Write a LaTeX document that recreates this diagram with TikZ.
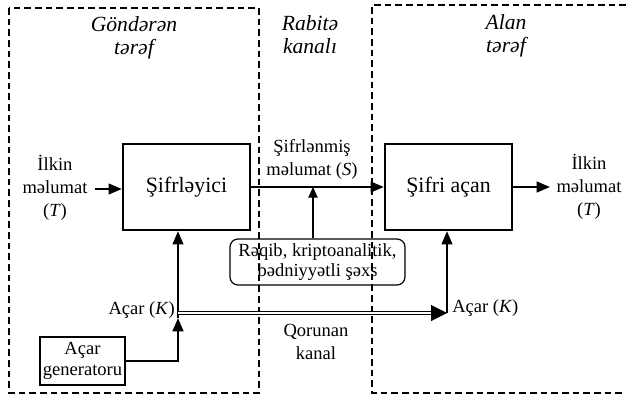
\documentclass[tikz,border=0pt]{standalone}
\usepackage{fontspec}
\setmainfont{Liberation Serif}
\usetikzlibrary{arrows.meta,calc}
\begin{document}
\begin{tikzpicture}[x=0.75pt,y=-0.75pt,
  txt/.style={font=\fontsize{13.9}{17.25}\selectfont, align=center, inner sep=0pt},
  ttl/.style={font=\fontsize{16.2}{17.25}\selectfont\itshape, align=center, inner sep=0pt},
  bigbox/.style={draw, line width=1.7pt, minimum width=95.25pt, minimum height=64.5pt, inner sep=0pt, font=\fontsize{16.4}{19}\selectfont},
  genbox/.style={draw, line width=1.5pt, minimum width=63.75pt, minimum height=36pt, inner sep=0pt, align=center, font=\fontsize{13.9}{15.5}\selectfont},
  rqbox/.style={draw, line width=0.9pt, rounded corners=6pt, minimum width=131.25pt, minimum height=34.5pt, inner sep=0pt, align=center, font=\fontsize{13.9}{15.5}\selectfont},
  frame/.style={dash pattern=on 5pt off 3pt, line width=1pt},
  arr/.style={line width=1.6pt, -{Triangle[length=10pt,width=8pt]}},
  thinarr/.style={line width=0.9pt, -{Triangle[length=8pt,width=7pt]}}
]
\useasboundingbox (0,0) rectangle (626,397);
% frames
\draw[frame] (9,8) rectangle (259,393);
\draw[frame] (626,5) -- (372,5) -- (372,393) -- (626,393);
% titles
\node[ttl] (t1) at (134,38) {Göndərən\\tərəf};
\node[ttl] (t2) at (310,35) {Rabitə\\kanalı};
\node[ttl] (t3) at (506,36) {Alan\\tərəf};
% boxes
\node[bigbox] (enc) at (186.5,187) {Şifrləyici};
\node[bigbox] (dec) at (448.5,187) {Şifri açan};
\node[rqbox] (rq) at (317.5,262) {Rəqib, kriptoanalitik,\\bədniyyətli şəxs};
\node[genbox] (gen) at (82.5,361) {Açar\\generatoru};
% labels
\node[txt] (lin) at (55,188) {İlkin\\məlumat\\(\textit{T})};
\node[txt] (lout) at (589,187) {İlkin\\məlumat\\(\textit{T})};
\node[txt] (lS) at (312,159) {Şifrlənmiş\\məlumat (\textit{S})};
\node[txt, anchor=east] (lK1) at (175,310) {Açar (\textit{K})};
\node[txt, anchor=west] (lK2) at (452,308) {Açar (\textit{K})};
\node[txt] (lQ) at (316,342) {Qorunan\\kanal};
% coordinates
\coordinate (inS) at (95,189);
\coordinate (outE) at (550,187);
\coordinate (tap) at (313,187);
\coordinate (kA) at (178,318);
\coordinate (kB) at (178,313);
\coordinate (kC) at (432,313);
\coordinate (kD) at (447,313);
% connectors
\draw[arr] (inS) -- (inS -| enc.west);
\draw[arr] (enc.east) -- (dec.west);
\draw[arr] (dec.east) -- (outE);
\draw[thinarr] (tap |- rq.north) -- (tap);
\draw[arr] (gen.east) -| (kA);
\draw[arr] (kA) -- (kA |- enc.south);
\draw[line width=0.7pt, double, double distance=1.2pt] (kB) -- (kC);
\draw[line width=0.8pt, -{Triangle[length=12pt,width=12pt]}] (kC) -- (kD);
\draw[arr] (kD) -- (kD |- dec.south);
\end{tikzpicture}
\end{document}
